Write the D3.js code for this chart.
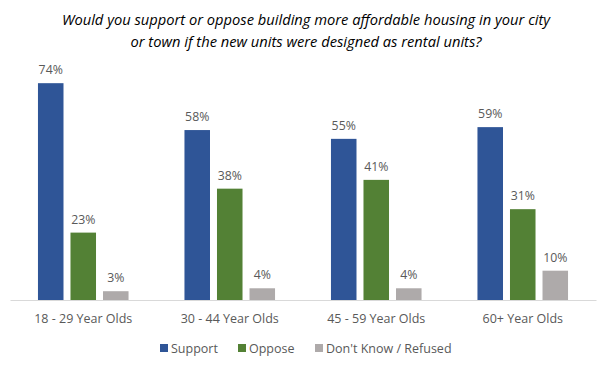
<!DOCTYPE html>
<html><head><meta charset="utf-8">
<script src="https://cdn.jsdelivr.net/npm/d3@7"></script>
<style>body{margin:0;background:#fff}svg{display:block}</style>
</head><body>
<svg id="c" width="615" height="371"></svg>
<script>
const categories = ["18 - 29 Year Olds", "30 - 44 Year Olds", "45 - 59 Year Olds", "60+ Year Olds"];
const seriesNames = ["Support", "Oppose", "Don't Know / Refused"];
const support = [74, 58, 55, 59];
const oppose = [23, 38, 41, 31];
const dontKnow = [3, 4, 4, 10];
const titleLines = ["Would you support or oppose building more affordable housing in your city", "or town if the new units were designed as rental units?"];
const colors = ["#2F5597", "#538135", "#AEAAAA"];

const values = [support, oppose, dontKnow];
const svg = d3.select("#c");
const font = "'Open Sans', sans-serif";
const textCol = "#595959";

const x0 = d3.scaleBand().domain(categories).range([10, 596]).padding(0);
const x1 = d3.scaleBand().domain(seriesNames).range([0, x0.bandwidth()]).paddingInner(0.215).paddingOuter(0.86);
const y = d3.scaleLinear().domain([0, 100]).range([300, 7]);

svg.selectAll("text.title").data(titleLines).enter().append("text")
  .attr("x", 306).attr("y", (d, i) => 25 + i * 22)
  .attr("text-anchor", "middle").attr("font-family", font).attr("font-style", "italic")
  .attr("font-size", 14.7).attr("fill", "#000").text(d => d);

const data = [];
categories.forEach((c, ci) => seriesNames.forEach((s, si) => data.push({c, s, si, v: values[si][ci]})));

const g = svg.append("g");
g.selectAll("rect").data(data).enter().append("rect")
  .attr("x", d => x0(d.c) + x1(d.s)).attr("width", x1.bandwidth())
  .attr("y", d => y(d.v)).attr("height", d => y(0) - y(d.v))
  .attr("fill", d => colors[d.si]);

g.selectAll("text.lbl").data(data).enter().append("text")
  .attr("x", d => x0(d.c) + x1(d.s) + x1.bandwidth() / 2)
  .attr("y", d => y(d.v) - 9)
  .attr("text-anchor", "middle").attr("font-family", font).attr("font-size", 12.3)
  .attr("fill", textCol).text(d => d.v + "%");

const axis = svg.append("g").attr("transform", `translate(0,${y(0)})`)
  .call(d3.axisBottom(x0).tickSize(0).tickPadding(14));
axis.select(".domain").attr("stroke", "#D9D9D9").attr("stroke-width", 1);
axis.selectAll("text").attr("font-family", font).attr("font-size", 12.5).attr("fill", textCol);

const legendX = [160, 238, 315];
const lg = svg.append("g");
seriesNames.forEach((s, i) => {
  lg.append("rect").attr("x", legendX[i]).attr("y", 344).attr("width", 8).attr("height", 8).attr("fill", colors[i]);
  lg.append("text").attr("x", legendX[i] + 11).attr("y", 352.5).attr("font-family", font).attr("font-size", 12.5)
    .attr("fill", textCol).text(s);
});
</script>
</body></html>
